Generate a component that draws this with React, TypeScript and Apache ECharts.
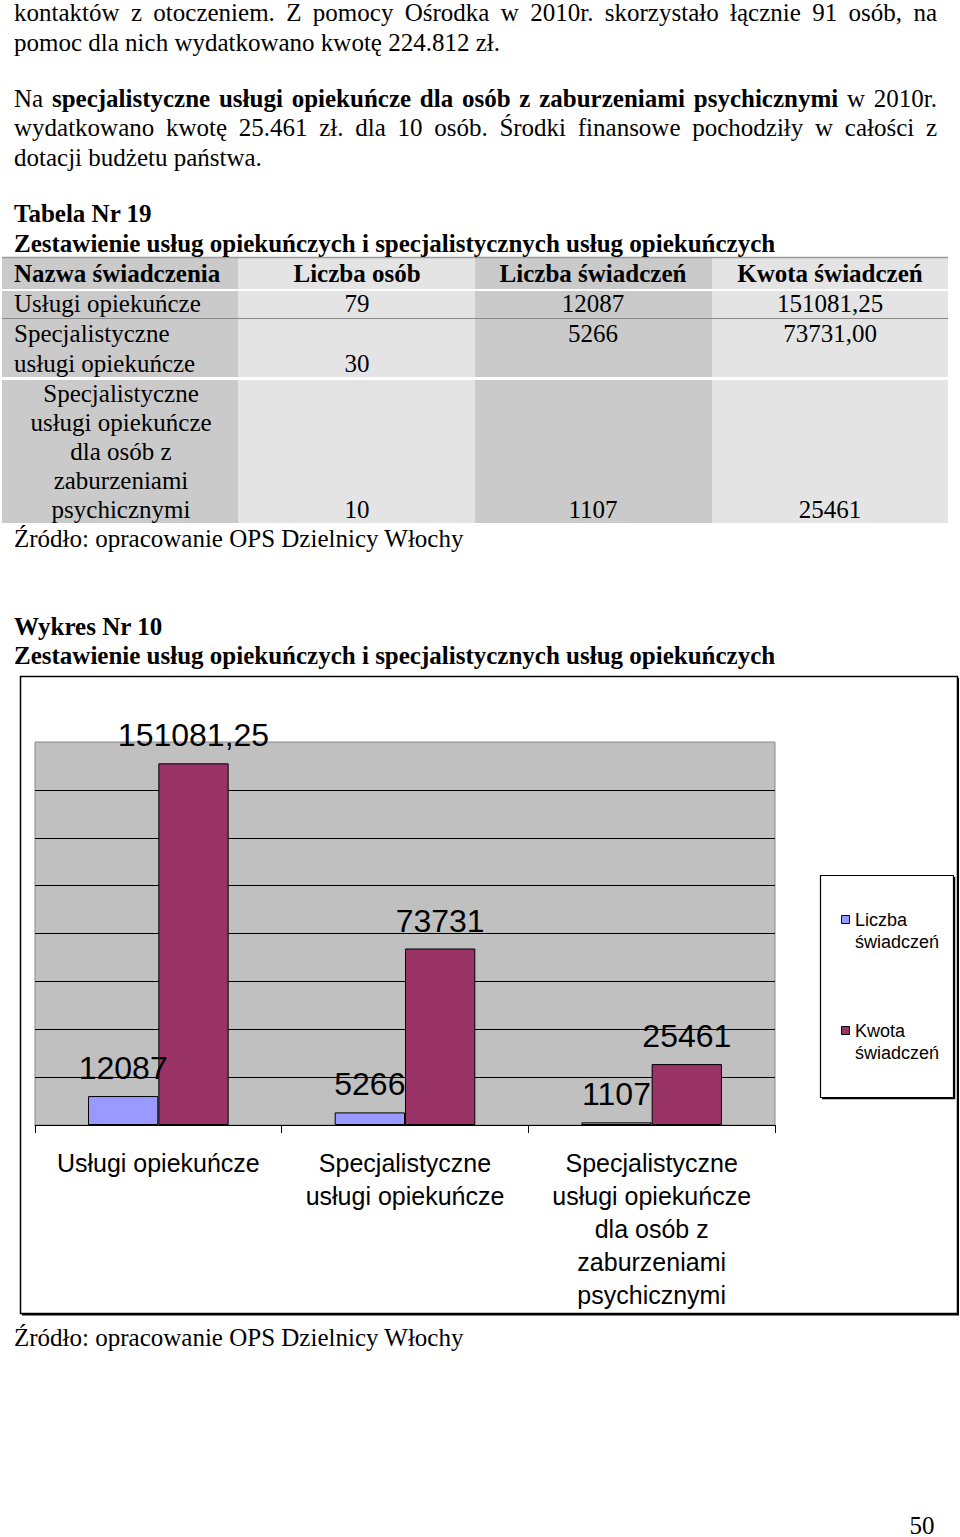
import React, { useEffect, useRef } from 'react';
import * as echarts from 'echarts';

// ---------- data ----------
const categories = [
  'Usługi opiekuńcze',
  'Specjalistyczne usługi opiekuńcze',
  'Specjalistyczne usługi opiekuńcze dla osób z zaburzeniami psychicznymi',
];
// the same names, broken into lines as printed
const categoryLabels = [
  'Usługi opiekuńcze',
  'Specjalistyczne\nusługi opiekuńcze',
  'Specjalistyczne\nusługi opiekuńcze\ndla osób z\nzaburzeniami\npsychicznymi',
];
const seriesNames = ['Liczba świadczeń', 'Kwota świadczeń'];
const legendLabels = ['Liczba\nświadczeń', 'Kwota\nświadczeń'];
const liczbaSwiadczen = [12087, 5266, 1107];
const kwotaSwiadczen = [151081.25, 73731, 25461];
const liczbaOsob = [79, 30, 10];
const kwotaTabela = ['151081,25', '73731,00', '25461'];
const tableHeaders = ['Nazwa świadczenia', 'Liczba osób', 'Liczba świadczeń', 'Kwota świadczeń'];
const yMax = 160000;
const yInterval = 20000;

const paragraphLines = [
  'kontaktów z otoczeniem. Z pomocy Ośrodka w 2010r. skorzystało łącznie 91 osób, na',
  'pomoc dla nich wydatkowano kwotę 224.812 zł.',
  'Na **specjalistyczne usługi opiekuńcze dla osób z zaburzeniami psychicznymi** w 2010r.',
  'wydatkowano kwotę 25.461 zł. dla 10 osób. Środki finansowe pochodziły w całości z',
  'dotacji budżetu państwa.',
];
const paragraphJustify = [true, false, true, true, false];
const tableTitle = 'Tabela Nr 19';
const chartTitle = 'Wykres Nr 10';
const subtitle = 'Zestawienie usług opiekuńczych i specjalistycznych usług opiekuńczych';
const sourceText = 'Źródło: opracowanie OPS Dzielnicy Włochy';
const pageNumber = '50';

// ---------- styles ----------
const SERIF = '"Liberation Serif", "Times New Roman", serif';
const SANS = '"Liberation Sans", Arial, sans-serif';
const BLUE = '#9999ff';
const PURPLE = '#993366';

function txt(text: string, x: number, y: number, o: any = {}) {
  const style: any = {
    text,
    fill: '#000',
    fontFamily: o.family || SERIF,
    fontSize: o.size || 25,
    fontWeight: o.bold ? 'bold' : 'normal',
    align: o.align || 'left',
    verticalAlign: o.va || 'middle',
  };
  if (o.lh) style.lineHeight = o.lh;
  return { type: 'text', x, y, silent: true, z: 10, style };
}

function buildGraphics() {
  const els: any[] = [];
  const canvas = document.createElement('canvas');
  const ctx = canvas.getContext('2d') as CanvasRenderingContext2D;
  const measure = (s: string, bold: boolean) => {
    ctx.font = `${bold ? 'bold ' : ''}25px "Liberation Serif"`;
    return ctx.measureText(s).width;
  };

  // paragraph
  const LEFT = 14;
  const RIGHT = 937;
  const paraY = [12, 42, 98, 127, 157];
  paragraphLines.forEach((line, i) => {
    const segs = line.split('**');
    if (!paragraphJustify[i] && segs.length === 1) {
      els.push(txt(line, LEFT, paraY[i]));
      return;
    }
    const words: { w: string; b: boolean }[] = [];
    segs.forEach((s, k) => {
      s.split(/\s+/).filter(Boolean).forEach((w) => words.push({ w, b: k % 2 === 1 }));
    });
    const widths = words.map((w) => measure(w.w, w.b));
    const sum = widths.reduce((a, b) => a + b, 0);
    const gap = paragraphJustify[i]
      ? (RIGHT - LEFT - sum) / (words.length - 1)
      : measure(' ', false);
    let x = LEFT;
    words.forEach((w, k) => {
      els.push(txt(w.w, x, paraY[i], { bold: w.b }));
      x += widths[k] + gap;
    });
  });

  // table titles
  els.push(txt(tableTitle, LEFT, 213, { bold: true }));
  els.push(txt(subtitle, LEFT, 243, { bold: true }));

  // table backgrounds
  const colX = [2, 238, 475, 712, 948];
  const rows = [
    [258, 289],
    [291, 318],
    [319, 377],
    [380, 523],
  ];
  const dark = '#cacaca';
  const light = '#e4e4e4';
  rows.forEach(([y0, y1]) => {
    for (let c = 0; c < 4; c++) {
      els.push({
        type: 'rect',
        silent: true,
        shape: { x: colX[c], y: y0, width: colX[c + 1] - colX[c], height: y1 - y0 },
        style: { fill: c % 2 === 0 ? dark : light },
      });
    }
  });
  els.push({ type: 'line', silent: true, shape: { x1: 2, y1: 257.5, x2: 948, y2: 257.5 }, style: { stroke: '#9a9a9a', lineWidth: 1.5 } });
  els.push({ type: 'line', silent: true, shape: { x1: 2, y1: 318.5, x2: 948, y2: 318.5 }, style: { stroke: '#8a8a8a', lineWidth: 1 } });

  const colC = [121, 357, 593, 830];
  // header
  els.push(txt(tableHeaders[0], LEFT, 273, { bold: true }));
  for (let c = 1; c < 4; c++) els.push(txt(tableHeaders[c], colC[c], 273, { bold: true, align: 'center' }));
  // row 1
  els.push(txt(categoryLabels[0], LEFT, 303));
  els.push(txt(String(liczbaOsob[0]), colC[1], 303, { align: 'center' }));
  els.push(txt(String(liczbaSwiadczen[0]), colC[2], 303, { align: 'center' }));
  els.push(txt(kwotaTabela[0], colC[3], 303, { align: 'center' }));
  // row 2
  els.push(txt(categoryLabels[1], LEFT, 318, { va: 'top', lh: 30 }));
  els.push(txt(String(liczbaOsob[1]), colC[1], 363, { align: 'center' }));
  els.push(txt(String(liczbaSwiadczen[1]), colC[2], 333, { align: 'center' }));
  els.push(txt(kwotaTabela[1], colC[3], 333, { align: 'center' }));
  // row 3
  els.push(txt(categoryLabels[2], colC[0], 378.5, { va: 'top', lh: 29, align: 'center' }));
  els.push(txt(String(liczbaOsob[2]), colC[1], 509, { align: 'center' }));
  els.push(txt(String(liczbaSwiadczen[2]), colC[2], 509, { align: 'center' }));
  els.push(txt(kwotaTabela[2], colC[3], 509, { align: 'center' }));
  els.push(txt(sourceText, LEFT, 538));

  // chart titles
  els.push(txt(chartTitle, LEFT, 626, { bold: true }));
  els.push(txt(subtitle, LEFT, 655, { bold: true }));

  // chart frame
  els.push({ type: 'rect', silent: true, z: 0, shape: { x: 20.5, y: 676.5, width: 937, height: 637 }, style: { fill: 'none', stroke: '#000', lineWidth: 1.5 } });
  els.push({ type: 'line', silent: true, shape: { x1: 958, y1: 678, x2: 958, y2: 1315 }, style: { stroke: '#000', lineWidth: 2 } });
  els.push({ type: 'line', silent: true, shape: { x1: 22, y1: 1314.5, x2: 959, y2: 1314.5 }, style: { stroke: '#000', lineWidth: 2 } });

  // legend box
  els.push({ type: 'rect', silent: true, shape: { x: 820.5, y: 875.5, width: 133, height: 222 }, style: { fill: '#fff', stroke: '#000', lineWidth: 1.2 } });
  els.push({ type: 'line', silent: true, shape: { x1: 954.5, y1: 877, x2: 954.5, y2: 1099 }, style: { stroke: '#000', lineWidth: 1.5 } });
  els.push({ type: 'line', silent: true, shape: { x1: 822, y1: 1098.5, x2: 955, y2: 1098.5 }, style: { stroke: '#000', lineWidth: 1.5 } });
  const legendY = [920, 1031];
  const legendColors = [BLUE, PURPLE];
  legendLabels.forEach((n, i) => {
    els.push({ type: 'rect', silent: true, z: 10, shape: { x: 841.5, y: legendY[i] - 4.5, width: 8, height: 8 }, style: { fill: legendColors[i], stroke: '#000', lineWidth: 1 } });
    els.push(txt(n, 855, legendY[i] - 11, { family: SANS, size: 18, va: 'top', lh: 22 }));
  });

  // footer
  els.push(txt(sourceText, LEFT, 1337));
  els.push(txt(pageNumber, 922, 1525, { align: 'center', lh: 20 }));
  return els;
}

export default function App() {
  const ref = useRef<HTMLDivElement>(null);
  useEffect(() => {
    if (!ref.current) return;
    const chart = echarts.init(ref.current, null, { renderer: 'svg' });
    const labelStyle = {
      show: true,
      position: 'top',
      distance: 12,
      color: '#000',
      fontFamily: SANS,
      fontSize: 32,
    };
    chart.setOption({
      animation: false,
      backgroundColor: '#fff',
      grid: {
        left: 35,
        top: 742,
        width: 740,
        height: 383,
        show: true,
        backgroundColor: '#c0c0c0',
        borderColor: '#8a8a8a',
        borderWidth: 1,
      },
      xAxis: {
        type: 'category',
        data: categories,
        axisLine: { lineStyle: { color: '#000', width: 1 } },
        axisTick: { show: true, length: 8, lineStyle: { color: '#000', width: 1 } },
        axisLabel: {
          interval: 0,
          margin: 21,
          color: '#000',
          fontFamily: SANS,
          fontSize: 25,
          lineHeight: 33,
          align: 'center',
          formatter: (v: string) => categoryLabels[categories.indexOf(v)],
        },
      },
      yAxis: {
        type: 'value',
        min: 0,
        max: yMax,
        interval: yInterval,
        axisLine: { show: false },
        axisTick: { show: false },
        axisLabel: { show: false },
        splitLine: { show: true, showMaxLine: false, lineStyle: { color: '#000', width: 1 } },
      },
      series: [
        {
          name: seriesNames[0],
          type: 'bar',
          data: liczbaSwiadczen,
          barGap: '0%',
          barCategoryGap: '43%',
          itemStyle: { color: BLUE, borderColor: '#000', borderWidth: 1 },
          label: labelStyle,
        },
        {
          name: seriesNames[1],
          type: 'bar',
          data: kwotaSwiadczen,
          barGap: '0%',
          barCategoryGap: '43%',
          itemStyle: { color: PURPLE, borderColor: '#000', borderWidth: 1 },
          label: { ...labelStyle, formatter: (p: any) => String(p.value).replace('.', ',') },
        },
      ],
      graphic: { elements: buildGraphics() },
    });
    return () => chart.dispose();
  }, []);
  return (
    <div
      ref={ref}
      style={{ position: 'absolute', left: 0, top: 0, width: 960, height: 1537, background: '#fff' }}
    />
  );
}
